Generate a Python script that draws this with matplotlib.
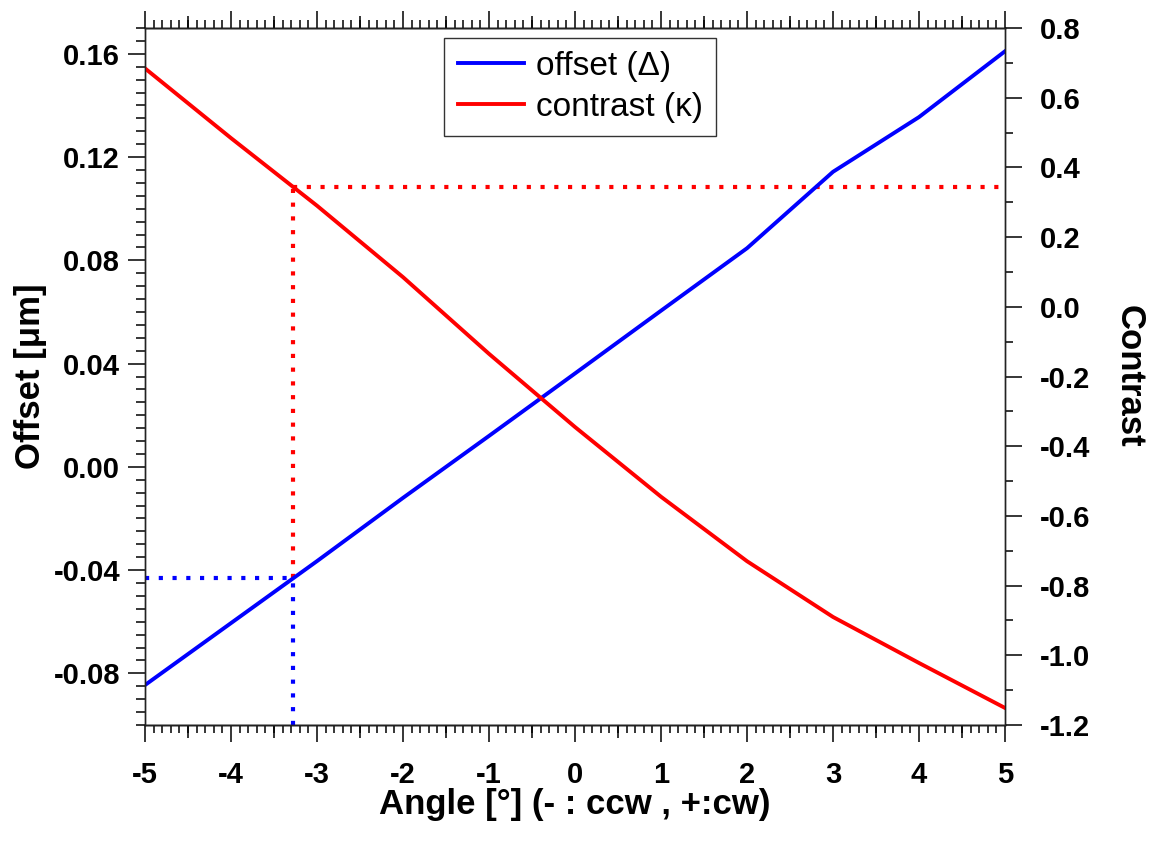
import matplotlib.pyplot as plt
import numpy as np
from matplotlib.ticker import MultipleLocator, FuncFormatter
from matplotlib.lines import Line2D

plt.rcParams['font.family'] = ['Liberation Sans', 'DejaVu Sans']
plt.rcParams['axes.unicode_minus'] = False

# data
angle = [-5, -4, -3, -2, -1, 0, 1, 2, 3, 4, 5]
offset = [-0.0845, -0.0605, -0.0365, -0.012, 0.012, 0.0362, 0.0605, 0.0847, 0.1143, 0.1355, 0.161]
contrast = [0.684, 0.484, 0.29, 0.085, -0.135, -0.345, -0.545, -0.73, -0.89, -1.022, -1.151]
mark_angle = -3.28

blue = '#0000ff'
red = '#ff0000'

fig = plt.figure(figsize=(11.54, 8.46), dpi=100)
ax = fig.add_axes([0.1257, 0.1430, 0.7452, 0.8239])
ax2 = ax.twinx()

ax.set_xlim(-5, 5)
ax.set_ylim(-0.1, 0.17)
ax2.set_ylim(-1.2, 0.8)

# dotted guide lines through the marked angle
m_off = np.interp(mark_angle, angle, offset)
m_con = np.interp(mark_angle, angle, contrast)
disp = ax2.transData.transform((mark_angle, m_con))
m_con_off = ax.transData.inverted().transform(disp)[1]

dot = dict(lw=3, linestyle=(0, (1, 2.3)), dash_capstyle='butt')
ax.plot([-5, mark_angle], [m_off, m_off], color=blue, **dot)
ax.plot([mark_angle, mark_angle], [-0.1, m_off], color=blue, **dot)
ax.plot([mark_angle, mark_angle], [m_off, m_con_off], color=red, **dot)
ax.plot([mark_angle, 5], [m_con_off, m_con_off], color=red, **dot)

ax.plot(angle, offset, color=blue, lw=2.8)
ax2.plot(angle, contrast, color=red, lw=2.8)

# ticks
tick_font = dict(labelsize=21, width=1.1, colors='black')
ax.xaxis.set_major_locator(MultipleLocator(1))
ax.xaxis.set_minor_locator(MultipleLocator(0.1))
ax.yaxis.set_major_locator(MultipleLocator(0.04))
ax.yaxis.set_minor_locator(MultipleLocator(0.005))
ax2.yaxis.set_major_locator(MultipleLocator(0.2))
ax2.yaxis.set_minor_locator(MultipleLocator(0.1))

ax.xaxis.set_major_formatter(FuncFormatter(lambda v, p: f'{round(v) + 0:d}'))
ax.yaxis.set_major_formatter(FuncFormatter(lambda v, p: f'{round(v, 3) + 0.0:.2f}'))
ax2.yaxis.set_major_formatter(FuncFormatter(lambda v, p: f'{round(v, 2) + 0.0:.1f}'))

ax.tick_params(axis='x', which='major', direction='out', length=12, top=True, pad=14, **tick_font)
ax.tick_params(axis='x', which='minor', direction='out', length=5.5, width=1.1, top=True)
ax.tick_params(axis='y', which='major', direction='out', length=12, pad=6, **tick_font)
ax.tick_params(axis='y', which='minor', direction='out', length=6.5, width=1.1)
ax2.tick_params(axis='y', which='major', direction='out', length=12, pad=13, **tick_font)
ax2.tick_params(axis='y', which='minor', direction='out', length=6, width=1.1)

# half-unit ticks, a bit longer than the minor ones
for loc in ['bottom', 'top']:
    sec = ax.secondary_xaxis(loc)
    sec.set_xticks(np.arange(-4.5, 5, 1.0))
    sec.tick_params(direction='out', length=9, width=1.1, labelbottom=False, labeltop=False)
    sec.spines[loc].set_linewidth(1.0)

for a in (ax, ax2):
    for s in a.spines.values():
        s.set_linewidth(1.0)
        s.set_color('#222222')
    for lab in a.get_xticklabels() + a.get_yticklabels():
        lab.set_fontweight('bold')

ax.set_xlabel('Angle [°] (- : ccw , +:cw)', fontsize=25, fontweight='bold')
ax.xaxis.set_label_coords(0.5, -0.09)
ax.set_ylabel('Offset [μm]', fontsize=25, fontweight='bold')
ax.yaxis.set_label_coords(-0.114, 0.5)
ax2.set_ylabel('Contrast', fontsize=25, fontweight='bold', rotation=270, va='bottom')
ax2.yaxis.set_label_coords(1.125, 0.5)

handles = [Line2D([], [], color=blue, lw=2.8), Line2D([], [], color=red, lw=2.8)]
leg = ax2.legend(handles, ['offset (Δ)', 'contrast (κ)'], loc='upper left',
                 bbox_to_anchor=(0.348, 0.986), fontsize=24, frameon=True, fancybox=False,
                 handlelength=2.0, handletextpad=0.35, borderpad=0.4, labelspacing=0.3,
                 borderaxespad=0)
leg.get_frame().set_edgecolor('black')
leg.get_frame().set_linewidth(1.0)

fig.savefig('out.png', dpi=100)
